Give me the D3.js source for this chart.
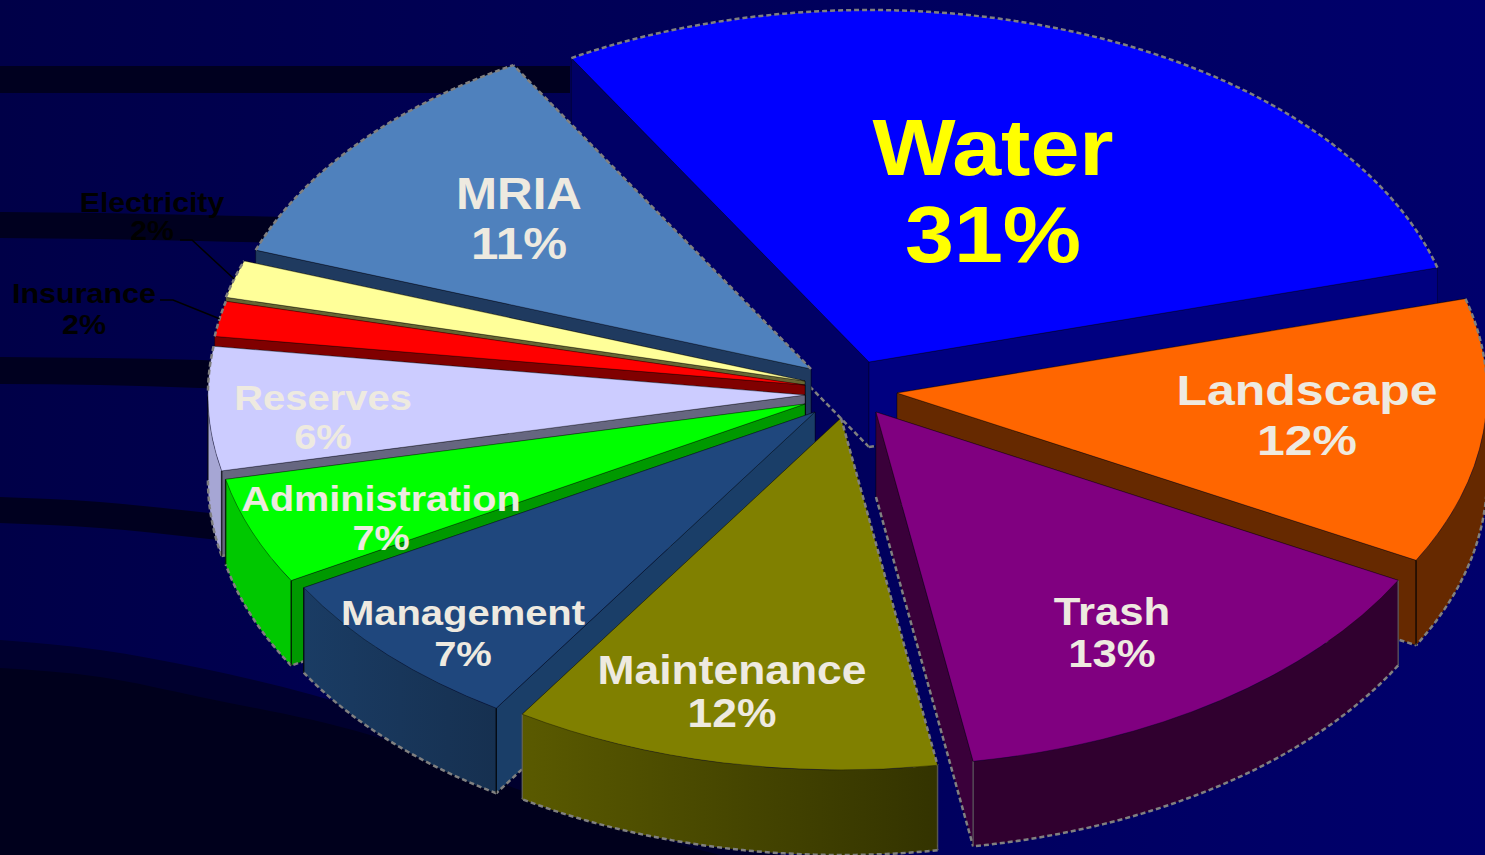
<!DOCTYPE html>
<html>
<head>
<meta charset="utf-8">
<script src="https://cdnjs.cloudflare.com/ajax/libs/d3/7.8.5/d3.min.js"></script>
<style>
    html, body { margin: 0; padding: 0; background: #000048; overflow: hidden; }
    svg { display: block; }
    text { font-family: "Liberation Sans", Arial, sans-serif; font-weight: bold; text-anchor: middle; }
</style>
</head>
<body>
<div id="chart"></div>
<script>
// Categories in pie order, clockwise from the back edge of Water
const categories = ["Water", "Landscape", "Trash", "Maintenance", "Management", "Administration", "Reserves", "Insurance", "Electricity", "MRIA"];
// Printed labels
const percents = [31, 12, 13, 12, 7, 7, 6, 2, 2, 11];
// Slice sizes as measured on the picture (the printed labels add up to 103)
const shares = [29.1, 12.2, 14.5, 11.7, 7.6, 4.9, 5.6, 1.6, 1.7, 11.1];

// Exploded offset of every slice from the pie centre, and small radius differences
const explodeX = [57, 85, 64, 29, 3, -7, -7, -7, -7, -1];
const explodeY = [-30, 1, 20, 26, 20, 12, 3, -7, -11, -23];
const radiusScale = [1, 1, 1.006, 1, 1, 1.005, 1.012, 1.01, 1.01, 1];

const topColors = ["#0000ff", "#ff6600", "#800080", "#808000", "#1f477d", "#00ff00", "#ccccff", "#ff0000", "#ffff99", "#4f81bd"];
const rimColors = ["#000080", "#662900", "#30002f", "#4a4a00", "#1a3659", "#00c800", "#a6a6d4", "#800000", "#808040", "#1f3a5f"];
const edgeColors = ["#000066", "#662900", "#3a003a", "#4a4a00", "#1a3e68", "#009900", "#666680", "#800000", "#666633", "#1f3a5f"];

// Back slices first so the front ones paint over them
const drawOrder = [0, 9, 8, 7, 6, 5, 4, 1, 2, 3];

// Label layout: centre x, baselines, font size and sideways stretch
const labelX = [993, 1307, 1112, 732, 463, 381, 323, 84, 152, 519];
const nameY = [175, 405, 625, 684, 625, 511, 410, 303, 212, 209];
const percentY = [262, 455, 667, 727, 666, 550, 449, 334, 240, 259];
const labelSize = [80, 42, 38, 40, 36, 36, 36, 27, 27, 44];
const labelStretch = [1.1, 1.19, 1.15, 1.11, 1.11, 1.1, 1.11, 1.13, 1.12, 1.12];
const labelColors = ["#ffff00", "#eeeae0", "#eeeae0", "#eeeae0", "#eeeae0", "#eeeae0", "#eeeae0", "#000000", "#000000", "#eeeae0"];

// Dark stripes of the slide background
const stripeX = [0, 100, 200, 320, 570];
const stripeTops = [[66, 66, 66, 66, 66], [212, 213, 215, 218, 225], [357, 358, 360, 365, 375], [497, 502, 512, 525, 560]];
const stripeBottoms = [[93, 93, 93, 93, 93], [238, 239, 241, 244, 251], [384, 385, 388, 393, 403], [523, 528, 538, 552, 587]];

const width = 1485, height = 855;
const centerX = 812, centerY = 392;
const radiusX = 590, radiusY = 352, depth = 85;
const rad = Math.PI / 180;

const svg = d3.select("#chart").append("svg")
    .attr("width", width)
    .attr("height", height);

const defs = svg.append("defs");

const bg = defs.append("linearGradient").attr("id", "bg");
bg.append("stop").attr("offset", "0").attr("stop-color", "#000048");
bg.append("stop").attr("offset", "1").attr("stop-color", "#00006c");

const oliveWall = defs.append("linearGradient").attr("id", "oliveWall");
oliveWall.append("stop").attr("offset", "0").attr("stop-color", "#5a5a00");
oliveWall.append("stop").attr("offset", "1").attr("stop-color", "#333300");

const mgmtWall = defs.append("linearGradient").attr("id", "mgmtWall");
mgmtWall.append("stop").attr("offset", "0").attr("stop-color", "#1a3c64");
mgmtWall.append("stop").attr("offset", "1").attr("stop-color", "#163050");

svg.append("rect").attr("width", width).attr("height", height).attr("fill", "url(#bg)");

// Background stripes, then the big dark swoosh at the bottom left
const stripeArea = d3.area()
    .x((d, i) => stripeX[i])
    .y0(d => d[0])
    .y1(d => d[1])
    .curve(d3.curveMonotoneX);

stripeTops.forEach((tops, s) => {
    svg.append("path")
        .attr("d", stripeArea(tops.map((t, i) => [t, stripeBottoms[s][i]])))
        .attr("fill", "#00001f");
});

const swooshX = [0, 100, 200, 370, 520, 700, 950];
const swooshTop = [640, 650, 668, 712, 770, 835, 880];
const swooshDark = [668, 677, 697, 735, 790, 850, 890];
const swooshArea = d3.area()
    .x((d, i) => swooshX[i])
    .y0(d => d)
    .y1(height + 40)
    .curve(d3.curveMonotoneX);
svg.append("path").attr("d", swooshArea(swooshTop)).attr("fill", "#00002e");
svg.append("path").attr("d", swooshArea(swooshDark)).attr("fill", "#00001c");

const pie = d3.pie()
    .sort(null)
    .startAngle(-30.3 * rad)
    .endAngle(329.7 * rad);

const slices = pie(shares);

const line = d3.line();

// Angles along the rim between a and b
const rimAngles = (a, b) => d3.range(a, b, rad).concat([b]);

const edgeDash = (sel) => sel
    .attr("fill", "none")
    .attr("stroke", "#808080")
    .attr("stroke-width", 2.5)
    .attr("stroke-dasharray", "5,3");

drawOrder.forEach(i => {
    const s = slices[i];
    const g = svg.append("g")
        .attr("class", "slice")
        .attr("transform", `translate(${centerX + explodeX[i]},${centerY + explodeY[i]})`);

    const rimX = (a) => radiusX * radiusScale[i] * Math.sin(a);
    const rimY = (a) => -radiusY * radiusScale[i] * Math.cos(a);

    const a0 = s.startAngle, a1 = s.endAngle;

    // Flat walls along both cut edges. On the left half the start edge is the front one
    const cuts = (a0 + a1) / 2 > 200 * rad ? [a1, a0] : [a0, a1];
    cuts.forEach(a => {
        g.append("path")
            .attr("d", line([[0, 0], [rimX(a), rimY(a)], [rimX(a), rimY(a) + depth], [0, depth]]) + "Z")
            .attr("fill", i === 0 && a === a1 ? rimColors[0] : edgeColors[i])
            .attr("stroke", "#000000")
            .attr("stroke-opacity", 0.35)
            .attr("stroke-width", 1);
        g.append("path")
            .attr("d", line([[0, depth], [rimX(a), rimY(a) + depth]]))
            .call(edgeDash);
    });

    // Curved outer wall only exists on the front half of the ellipse
    const fromA = Math.max(a0, 90 * rad), toA = Math.min(a1, 270 * rad);
    if (fromA < toA) {
        const angles = rimAngles(fromA, toA);
        let fill = rimColors[i];
        if (i === 3) fill = "url(#oliveWall)";
        if (i === 4) fill = "url(#mgmtWall)";
        const wallArea = d3.area()
            .x(a => rimX(a))
            .y0(a => rimY(a))
            .y1(a => rimY(a) + depth);
        g.append("path")
            .attr("d", wallArea(angles))
            .attr("fill", fill);
        g.append("path")
            .attr("d", line(angles.map(a => [rimX(a), rimY(a) + depth])))
            .call(edgeDash);
        [fromA, toA].forEach(a => {
            g.append("path")
                .attr("d", line([[rimX(a), rimY(a)], [rimX(a), rimY(a) + depth]]))
                .attr("stroke", i === 3 || i === 2 ? "#6a6a6a" : "#000000")
                .attr("stroke-opacity", 0.7)
                .attr("stroke-width", 1.5)
                .attr("fill", "none");
        });
    }

    // Top face: the arc is drawn round at radiusX and squashed to the tilted ellipse
    const arc = d3.arc().innerRadius(0).outerRadius(radiusX * radiusScale[i]);
    g.append("path")
        .attr("d", arc(s))
        .attr("transform", `scale(1,${radiusY / radiusX})`)
        .attr("fill", topColors[i])
        .attr("stroke", "#000000")
        .attr("stroke-opacity", 0.45)
        .attr("stroke-width", 1);

    // Back part of the rim carries the same dashed edge
    const backAngles = rimAngles(a0, a1).filter(a => a < 90 * rad || a > 270 * rad);
    if (backAngles.length > 1) {
        g.append("path")
            .attr("d", line(backAngles.map(a => [rimX(a), rimY(a)])))
            .call(edgeDash);
    }

    // Maintenance and MRIA show the dashes on one cut edge too
    if (i === 3 || i === 9) {
        const a = i === 3 ? a0 : a1;
        g.append("path")
            .attr("d", line([[0, 0], [rimX(a), rimY(a)]]))
            .call(edgeDash);
    }
});

// Leader lines for the two small outside labels
const leaderStart = {7: [160, 300], 8: [180, 240]};
const leaderElbow = {7: [173, 300], 8: [192, 240]};
[7, 8].forEach(i => {
    const mid = (slices[i].startAngle + slices[i].endAngle) / 2;
    const end = [
        centerX + explodeX[i] + radiusX * radiusScale[i] * Math.sin(mid),
        centerY + explodeY[i] - radiusY * radiusScale[i] * Math.cos(mid)
    ];
    svg.append("path")
        .attr("d", line([leaderStart[i], leaderElbow[i], end]))
        .attr("fill", "none")
        .attr("stroke", "#000000")
        .attr("stroke-width", 1.5);
});

// Labels
categories.forEach((name, i) => {
    [[name, nameY[i]], [percents[i] + "%", percentY[i]]].forEach(([txt, y]) => {
        svg.append("text")
            .attr("transform", `translate(${labelX[i]},${y}) scale(${labelStretch[i]},1)`)
            .attr("font-size", labelSize[i])
            .attr("fill", labelColors[i])
            .text(txt);
    });
});
</script>
</body>
</html>
